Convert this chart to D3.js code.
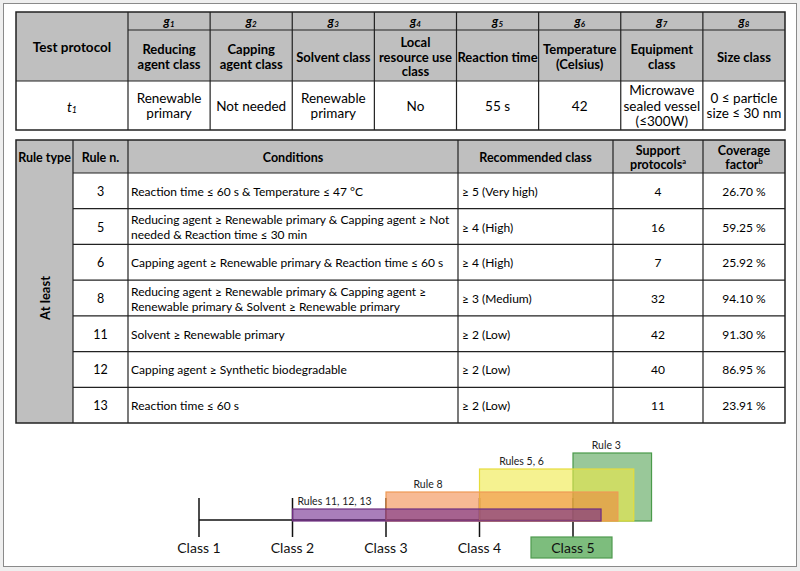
<!DOCTYPE html>
<html>
<head>
<meta charset="utf-8">
<script src="https://cdn.jsdelivr.net/npm/d3@7"></script>
<style>
  body { margin: 0; background: #efefef; }
  svg { display: block; font-family: Lato, "Open Sans", sans-serif; }
</style>
</head>
<body>
<svg id="chart" width="800" height="571"></svg>
<script>
// ---- data ----
var gIndex = ["1", "2", "3", "4", "5", "6", "7", "8"];
var gHeaders = [["Reducing", "agent class"], ["Capping", "agent class"], ["Solvent class"],
  ["Local", "resource use", "class"], ["Reaction time"], ["Temperature", "(Celsius)"],
  ["Equipment", "class"], ["Size class"]];
var t1Values = [["Renewable", "primary"], ["Not needed"], ["Renewable", "primary"], ["No"],
  ["55 s"], ["42"], ["Microwave", "sealed vessel", "(≤300W)"], ["0 ≤ particle", "size ≤ 30 nm"]];

var ruleType = "At least";
var ruleNumbers = [3, 5, 6, 8, 11, 12, 13];
var ruleConditions = [
  ["Reaction time ≤ 60 s & Temperature ≤ 47 °C"],
  ["Reducing agent ≥ Renewable primary & Capping agent ≥ Not", "needed & Reaction time ≤ 30 min"],
  ["Capping agent ≥ Renewable primary & Reaction time ≤ 60 s"],
  ["Reducing agent ≥ Renewable primary & Capping agent ≥", "Renewable primary & Solvent ≥ Renewable primary"],
  ["Solvent ≥ Renewable primary"],
  ["Capping agent ≥ Synthetic biodegradable"],
  ["Reaction time ≤ 60 s"]];
var recommendedClass = ["≥ 5 (Very high)", "≥ 4 (High)", "≥ 4 (High)", "≥ 3 (Medium)",
  "≥ 2 (Low)", "≥ 2 (Low)", "≥ 2 (Low)"];
var supportProtocols = [4, 16, 7, 32, 42, 40, 11];
var coverageFactor = [26.70, 59.25, 25.92, 94.10, 91.30, 86.95, 23.91];

var classLabels = [1, 2, 3, 4, 5];
var bandLabels = ["Rules 11, 12, 13", "Rule 8", "Rules 5, 6", "Rule 3"];
var bandStart = [2, 3, 4, 5];
var bandEnd = [5.3, 5.48, 5.65, 5.84];
var bandTier = [1, 2, 3, 4];

// ---- layout ----
var svg = d3.select("#chart");
var gray = "#bfbfbf", ink = "#222";

svg.append("rect").attr("x", 3.5).attr("y", 3.5).attr("width", 793).attr("height", 563)
  .attr("fill", "#fff").attr("stroke", "#8a8a8a");

function lines(g, x, yc, arr, lh, anchor) {
  var t = g.append("text").attr("x", x).attr("text-anchor", anchor || "middle")
    .attr("dominant-baseline", "central");
  arr.forEach(function(s, i) {
    t.append("tspan").attr("x", x).attr("y", yc + (i - (arr.length - 1) / 2) * lh).text(s);
  });
  return t;
}

// top table
var tb = { x0: 16, x1: 785, y0: 12, yG: 30, yH: 81, y1: 130 };
var gx = d3.scaleBand().domain(gIndex).range([128, tb.x1]);
var t1 = svg.append("g");

t1.append("rect").attr("x", tb.x0).attr("y", tb.y0).attr("width", tb.x1 - tb.x0)
  .attr("height", tb.yH - tb.y0).attr("fill", gray);

var hl = [[128, tb.x1, tb.yG], [tb.x0, tb.x1, tb.yH]];
hl.forEach(function(d) {
  t1.append("line").attr("x1", d[0]).attr("x2", d[1]).attr("y1", d[2]).attr("y2", d[2])
    .attr("stroke", ink).attr("stroke-width", 1.2);
});
t1.selectAll(".vl").data(gIndex).enter().append("line")
  .attr("x1", function(d) { return gx(d); }).attr("x2", function(d) { return gx(d); })
  .attr("y1", tb.y0).attr("y2", tb.y1).attr("stroke", ink).attr("stroke-width", 1.2);
t1.append("rect").attr("x", tb.x0).attr("y", tb.y0).attr("width", tb.x1 - tb.x0)
  .attr("height", tb.y1 - tb.y0).attr("fill", "none").attr("stroke", ink).attr("stroke-width", 1.5);

lines(t1, 72, (tb.y0 + tb.yH) / 2, ["Test protocol"], 15).attr("font-weight", "bold").attr("font-size", 13.5);
var t1lab = lines(t1, 72, (tb.yH + tb.y1) / 2, ["t"], 15).attr("font-style", "italic").attr("font-size", 14);
t1lab.select("tspan").append("tspan").attr("font-size", 9).attr("dy", 3).text("1");

gIndex.forEach(function(k, i) {
  var cx = gx(k) + gx.bandwidth() / 2;
  var gl = lines(t1, cx, (tb.y0 + tb.yG) / 2, ["g"], 15)
    .attr("font-weight", "bold").attr("font-style", "italic").attr("font-size", 12.5);
  gl.select("tspan").append("tspan").attr("font-size", 8).attr("dy", 3).text(k);
  lines(t1, cx, (tb.yG + tb.yH) / 2 + 1, gHeaders[i], 14.5).attr("font-weight", "bold").attr("font-size", 13);
  lines(t1, cx, (tb.yH + tb.y1) / 2, t1Values[i], 15.5).attr("font-size", 13.5);
});

// bottom table
var colEdges = [16, 73, 128, 458, 613, 703, 785];
var bt = { y0: 140, yH: 173, y1: 423 };
var ry = d3.scaleBand().domain(ruleNumbers).range([bt.yH, bt.y1]);
var t2 = svg.append("g").attr("font-size", 12);

t2.append("rect").attr("x", colEdges[0]).attr("y", bt.y0).attr("width", colEdges[6] - colEdges[0])
  .attr("height", bt.yH - bt.y0).attr("fill", gray);
t2.append("rect").attr("x", colEdges[0]).attr("y", bt.yH).attr("width", colEdges[1] - colEdges[0])
  .attr("height", bt.y1 - bt.yH).attr("fill", gray);

t2.selectAll(".hr").data(ruleNumbers).enter().append("line")
  .attr("x1", colEdges[1]).attr("x2", colEdges[6])
  .attr("y1", function(d) { return ry(d); }).attr("y2", function(d) { return ry(d); })
  .attr("stroke", ink).attr("stroke-width", 1.2);
t2.selectAll(".vr").data(colEdges.slice(1, 6)).enter().append("line")
  .attr("x1", function(d) { return d; }).attr("x2", function(d) { return d; })
  .attr("y1", bt.y0).attr("y2", bt.y1).attr("stroke", ink).attr("stroke-width", 1.2);
t2.append("rect").attr("x", colEdges[0]).attr("y", bt.y0).attr("width", colEdges[6] - colEdges[0])
  .attr("height", bt.y1 - bt.y0).attr("fill", "none").attr("stroke", ink).attr("stroke-width", 1.5);

var hy = (bt.y0 + bt.yH) / 2;
function mid(i) { return (colEdges[i] + colEdges[i + 1]) / 2; }
var headG = t2.append("g").attr("font-weight", "bold").attr("font-size", 12.5);
lines(headG, mid(0), hy, ["Rule type"], 14);
lines(headG, mid(1), hy, ["Rule n."], 14);
lines(headG, mid(2), hy, ["Conditions"], 14);
lines(headG, mid(3), hy, ["Recommended class"], 14);
var sp = lines(headG, mid(4), hy, ["Support", "protocols"], 14);
sp.select("tspan:last-child").append("tspan").attr("font-size", 7.5).attr("dy", -3).text("a");
var cf = lines(headG, mid(5), hy, ["Coverage", "factor"], 14);
cf.select("tspan:last-child").append("tspan").attr("font-size", 7.5).attr("dy", -3).text("b");

t2.append("text").attr("transform", "translate(" + mid(0) + "," + (bt.yH + bt.y1) / 2 + ") rotate(-90)")
  .attr("text-anchor", "middle").attr("dominant-baseline", "central")
  .attr("font-weight", "bold").attr("font-size", 13).text(ruleType);

ruleNumbers.forEach(function(r, i) {
  var cy = ry(r) + ry.bandwidth() / 2;
  lines(t2, mid(1), cy, [String(r)], 14).attr("font-size", 12.5);
  lines(t2, colEdges[2] + 3, cy, ruleConditions[i], 15, "start");
  lines(t2, colEdges[3] + 4, cy, [recommendedClass[i]], 14, "start");
  lines(t2, mid(4), cy, [String(supportProtocols[i])], 14);
  lines(t2, mid(5), cy, [coverageFactor[i].toFixed(2) + " %"], 14);
});

// class diagram
var x = d3.scaleLinear().domain([1, 5]).range([199, 573]);
var tierTop = d3.scaleOrdinal().domain(bandTier).range([509, 492, 469, 453]);
var baseY = 521, lineY = 520;
var bandFill = ["rgba(112,40,140,0.6)", "rgba(240,130,60,0.55)", "rgba(238,234,70,0.6)", "rgba(70,155,70,0.55)"];
var bandStroke = ["#6e2f80", "#ef9a55", "#e6dd3c", "#4a9a4a"];
var dg = svg.append("g");

dg.append("line").attr("x1", x(1)).attr("x2", x(5)).attr("y1", lineY).attr("y2", lineY)
  .attr("stroke", "#111").attr("stroke-width", 1.5);
dg.selectAll(".tk").data(classLabels).enter().append("line")
  .attr("x1", function(d) { return x(d); }).attr("x2", function(d) { return x(d); })
  .attr("y1", 498).attr("y2", 537).attr("stroke", "#111").attr("stroke-width", 1.5);

var order = [3, 2, 1, 0];
order.forEach(function(i) {
  var y0 = tierTop(bandTier[i]);
  dg.append("rect").attr("x", x(bandStart[i])).attr("y", y0)
    .attr("width", x(bandEnd[i]) - x(bandStart[i])).attr("height", baseY - y0)
    .attr("fill", bandFill[i]).attr("stroke", bandStroke[i]).attr("stroke-width", 1.2);
});
bandStart.forEach(function(s, i) {
  var w = x(bandEnd[i]) - x(s);
  dg.append("text").attr("x", x(s) + Math.min(42, w / 2 - 6)).attr("y", tierTop(bandTier[i]) - 8)
    .attr("text-anchor", "middle").attr("dominant-baseline", "central")
    .attr("font-size", 10.5).attr("fill", "#222").text(bandLabels[i]);
});

dg.append("rect").attr("x", 531).attr("y", 537).attr("width", 81).attr("height", 21)
  .attr("fill", "#7dbd7d").attr("stroke", "#4f9a4f").attr("stroke-width", 1.2);
dg.selectAll(".cl").data(classLabels).enter().append("text")
  .attr("x", function(d) { return x(d); }).attr("y", 547)
  .attr("text-anchor", "middle").attr("dominant-baseline", "central")
  .attr("font-size", 14).attr("fill", "#111")
  .text(function(d) { return "Class " + d; });
</script>
</body>
</html>
